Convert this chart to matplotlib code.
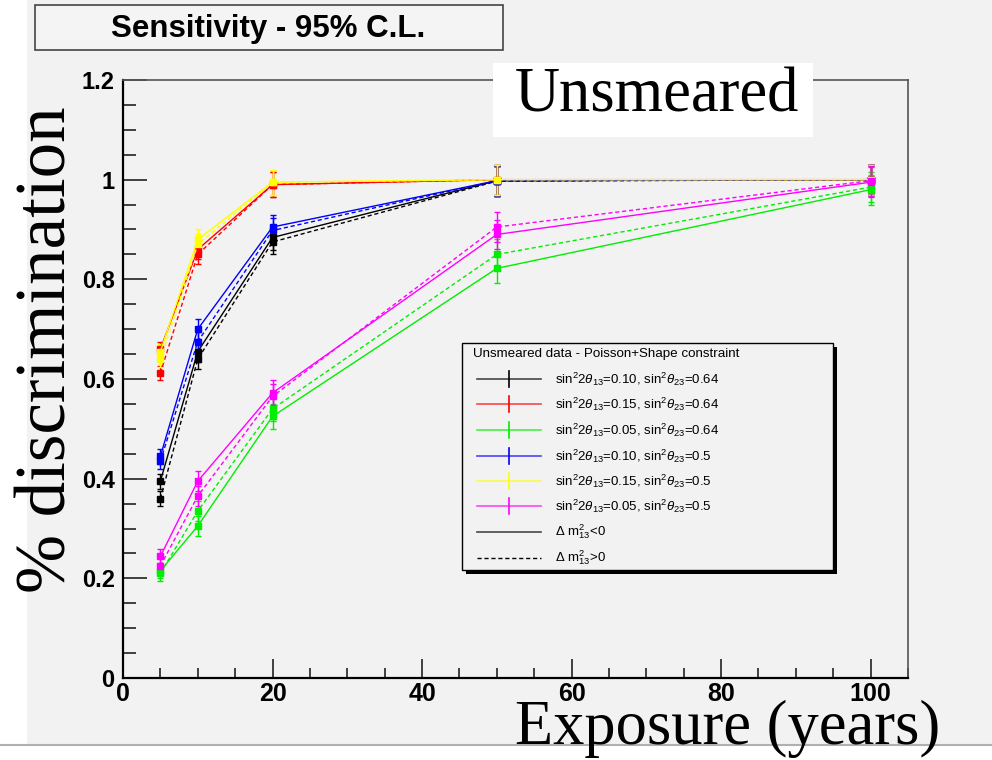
import matplotlib
matplotlib.use('Agg')
import matplotlib.pyplot as plt
from matplotlib.patches import Rectangle
from matplotlib.lines import Line2D
from matplotlib.ticker import MultipleLocator, FuncFormatter
import numpy as np

plt.rcParams['font.family'] = 'Liberation Sans'
plt.rcParams['mathtext.fontset'] = 'custom'
plt.rcParams['mathtext.rm'] = 'Liberation Sans'
plt.rcParams['mathtext.it'] = 'Liberation Sans:italic'

# exposure in years
exposure = [5, 10, 20, 50, 100]
err = [0.015, 0.02, 0.025, 0.03, 0.03]

# solid: dm2 < 0
neg_black = [0.395, 0.655, 0.884, 0.998, 1.0]
neg_red = [0.660, 0.860, 0.990, 1.0, 1.0]
neg_green = [0.215, 0.305, 0.525, 0.822, 0.980]
neg_blue = [0.445, 0.700, 0.905, 0.998, 1.0]
neg_yellow = [0.655, 0.880, 0.995, 1.0, 1.0]
neg_magenta = [0.244, 0.395, 0.572, 0.890, 0.995]

# dashed: dm2 > 0
pos_black = [0.360, 0.640, 0.875, 0.997, 1.0]
pos_red = [0.612, 0.850, 0.990, 1.0, 1.0]
pos_green = [0.210, 0.335, 0.540, 0.850, 0.985]
pos_blue = [0.435, 0.675, 0.898, 0.998, 1.0]
pos_yellow = [0.640, 0.870, 0.995, 1.0, 1.0]
pos_magenta = [0.225, 0.365, 0.565, 0.905, 0.998]

colors = ['black', '#ff0000', '#00ee00', '#0000ff', '#ffff00', '#ff00ff']
neg = [neg_black, neg_red, neg_green, neg_blue, neg_yellow, neg_magenta]
pos = [pos_black, pos_red, pos_green, pos_blue, pos_yellow, pos_magenta]
labels = [r'sin$^2$2$\theta_{13}$=0.10, sin$^2\theta_{23}$=0.64',
          r'sin$^2$2$\theta_{13}$=0.15, sin$^2\theta_{23}$=0.64',
          r'sin$^2$2$\theta_{13}$=0.05, sin$^2\theta_{23}$=0.64',
          r'sin$^2$2$\theta_{13}$=0.10, sin$^2\theta_{23}$=0.5',
          r'sin$^2$2$\theta_{13}$=0.15, sin$^2\theta_{23}$=0.5',
          r'sin$^2$2$\theta_{13}$=0.05, sin$^2\theta_{23}$=0.5']

W, H = 992, 760
def fx(p):
    return p / W
def fy(p):
    return 1 - p / H

fig = plt.figure(figsize=(9.92, 7.6), dpi=100, facecolor='white')
# ROOT canvas background
fig.patches.append(Rectangle((fx(27), fy(745)), fx(992) - fx(27), fy(0) - fy(745),
                             transform=fig.transFigure, fc='#f2f2f2', ec='none', zorder=-10))
fig.lines.append(Line2D([0, 1], [fy(745), fy(745)], transform=fig.transFigure,
                        color='#b0b0b0', lw=1.5))

ax = fig.add_axes([fx(123), fy(678), fx(908) - fx(123), fy(80) - fy(678)])
ax.set_facecolor('#f2f2f2')

for c, yn, yp in zip(colors, neg, pos):
    ax.errorbar(exposure, yn, yerr=err, color=c, ls='-', lw=1, marker='s', ms=5,
                capsize=2, elinewidth=1)
    ax.errorbar(exposure, yp, yerr=err, color=c, ls=(0, (3, 2)), lw=1, marker='s', ms=5,
                capsize=2, elinewidth=1)

ax.set_xlim(0, 105)
ax.set_ylim(0, 1.2)
ax.xaxis.set_major_locator(MultipleLocator(20))
ax.xaxis.set_minor_locator(MultipleLocator(5))
ax.yaxis.set_major_locator(MultipleLocator(0.2))
ax.yaxis.set_minor_locator(MultipleLocator(0.05))
ax.xaxis.set_major_formatter(FuncFormatter(lambda v, p: '%g' % v))
ax.yaxis.set_major_formatter(FuncFormatter(lambda v, p: '%g' % round(v, 2)))
ax.tick_params(which='both', direction='in', top=False, right=False, width=1.2, color='#222222')
ax.tick_params(axis='y', which='major', length=17, pad=6, labelsize=17)
ax.tick_params(axis='y', which='minor', length=9)
ax.tick_params(axis='x', which='major', length=14, pad=3, labelsize=18)
ax.tick_params(axis='x', which='minor', length=7)
for t in ax.get_xticklabels() + ax.get_yticklabels():
    t.set_fontweight('bold')
ax.spines['left'].set_linewidth(1.6)
ax.spines['bottom'].set_linewidth(1.6)
for s in ['top', 'right']:
    ax.spines[s].set_color('#555555')
    ax.spines[s].set_linewidth(1.2)

# title pave
fig.patches.append(Rectangle((fx(35), fy(50)), fx(503) - fx(35), fy(5) - fy(50),
                             transform=fig.transFigure, fc='#f4f4f4', ec='#444444', lw=1.2))
fig.text(fx(268), fy(29), 'Sensitivity - 95% C.L.', fontsize=22.5, fontweight='bold',
         ha='center', va='center')

# Unsmeared label
fig.patches.append(Rectangle((fx(493), fy(137)), fx(813) - fx(493), fy(63) - fy(137),
                             transform=fig.transFigure, fc='white', ec='none', zorder=3))
fig.text(fx(657), fy(96), 'Unsmeared', fontsize=45, family='Liberation Serif',
         ha='center', va='center', zorder=4)

# axis titles
fig.text(fx(940), fy(744), 'Exposure (years)', fontsize=45, family='Liberation Serif',
         ha='right', va='baseline')
fig.text(fx(48), fy(350), '% discrimination', fontsize=51, family='Liberation Serif',
         rotation=90, ha='center', va='center')

# legend box with shadow
fig.patches.append(Rectangle((fx(466), fy(574)), fx(837) - fx(466), fy(347) - fy(574),
                             transform=fig.transFigure, fc='black', ec='none', zorder=5))
fig.patches.append(Rectangle((fx(462), fy(570)), fx(833) - fx(462), fy(343) - fy(570),
                             transform=fig.transFigure, fc='#f2f2f2', ec='black', lw=1, zorder=6))
fig.text(fx(473), fy(354), 'Unsmeared data - Poisson+Shape constraint', fontsize=9.6,
         ha='left', va='center', zorder=7)
rows = [379, 404, 430, 456, 481, 506, 532, 558]
for r, c, lab in zip(rows, colors, labels):
    fig.lines.append(Line2D([fx(477), fx(541)], [fy(r), fy(r)], transform=fig.transFigure,
                            color=c, lw=1.2, alpha=0.7, zorder=7))
    fig.lines.append(Line2D([fx(509), fx(509)], [fy(r - 8), fy(r + 8)], transform=fig.transFigure,
                            color=c, lw=1.2, zorder=7))
    fig.text(fx(555), fy(r), lab, fontsize=9.5, ha='left', va='center', zorder=7)
fig.lines.append(Line2D([fx(477), fx(541)], [fy(rows[6]), fy(rows[6])], transform=fig.transFigure,
                        color='black', lw=1.2, alpha=0.7, zorder=7))
fig.text(fx(555), fy(rows[6]), r'$\Delta$ m$^2_{13}$<0', fontsize=9.5, ha='left', va='center', zorder=7)
fig.lines.append(Line2D([fx(477), fx(541)], [fy(rows[7]), fy(rows[7])], transform=fig.transFigure,
                        color='black', lw=1, ls=(0, (3, 2)), zorder=7))
fig.text(fx(555), fy(rows[7]), r'$\Delta$ m$^2_{13}$>0', fontsize=9.5, ha='left', va='center', zorder=7)

fig.savefig('out.png', dpi=100, facecolor=fig.get_facecolor())
